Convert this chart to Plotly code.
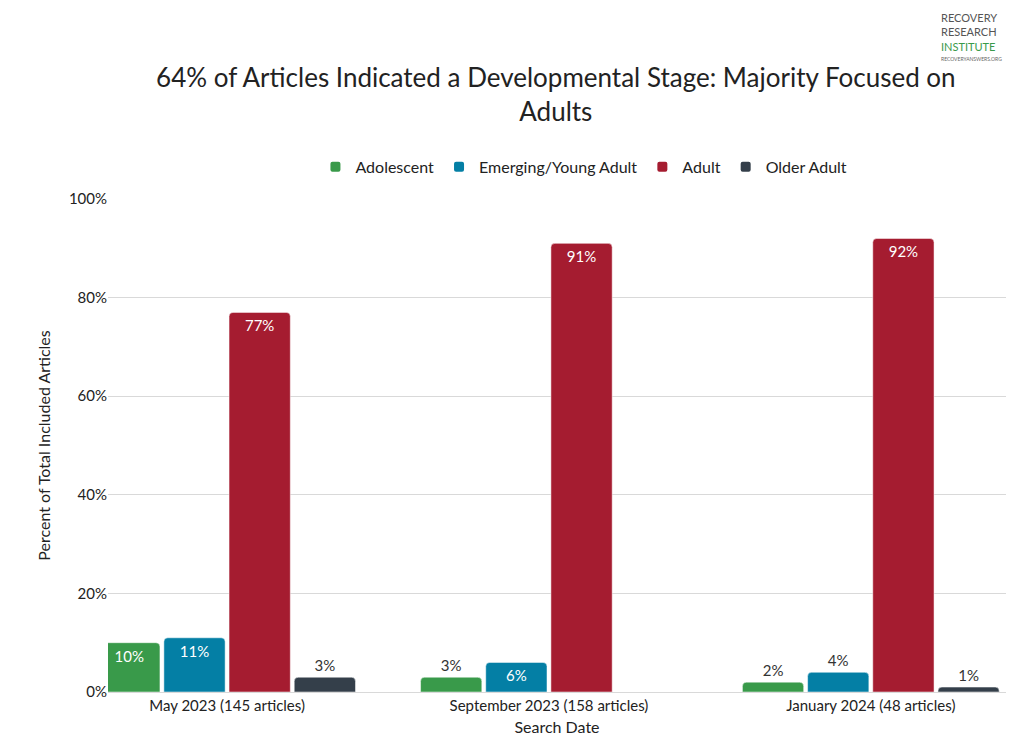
import plotly.graph_objects as go

categories = ["May 2023 (145 articles)", "September 2023 (158 articles)", "January 2024 (48 articles)"]
series_names = ["Adolescent", "Emerging/Young Adult", "Adult", "Older Adult"]
adolescent = [10, 3, 2]
young_adult = [11, 6, 4]
adult = [77, 91, 92]
older_adult = [3, None, 1]
colors = ["#399a4a", "#047fa5", "#a51c30", "#343f4a"]

FONT = "Lato, Open Sans, sans-serif"
fig = go.Figure()
for name, vals, col in zip(series_names, [adolescent, young_adult, adult, older_adult], colors):
    pos = ["inside" if (v is not None and v >= 5) else "outside" for v in vals]
    fig.add_trace(go.Bar(
        name=name, x=categories, y=vals, marker_color=col,
        text=[f"{v}%" if v is not None else "" for v in vals],
        textposition=pos, insidetextanchor="end",
        insidetextfont=dict(color="white", size=15),
        outsidetextfont=dict(color="#333", size=15),
        cliponaxis=False,
    ))

fig.update_layout(
    width=1024, height=750, template="plotly_white",
    font=dict(family=FONT, size=15, color="#222"),
    title=dict(text="64% of Articles Indicated a Developmental Stage: Majority Focused on<br>Adults",
               x=0.535, xanchor="center", y=0.895, yanchor="middle", font=dict(size=26)),
    legend=dict(orientation="h", x=0.53, xanchor="center", y=1.065, yanchor="middle",
                font=dict(size=16), itemsizing="constant"),
    margin=dict(l=100, r=26, t=191, b=66, autoexpand=False),
    bargap=0.19, bargroupgap=0.06, barcornerradius=4,
    plot_bgcolor="white", paper_bgcolor="white",
)
fig.update_yaxes(range=[0, 100], dtick=20, ticksuffix="%", gridcolor="#d9d9d9",
                 title=dict(text="Percent of Total Included Articles", font=dict(size=16), standoff=14),
                 zeroline=False, showline=False)
fig.update_xaxes(range=[-0.37, 2.42], title=dict(text="Search Date", font=dict(size=16), standoff=8),
                 showline=True, linecolor="#d9d9d9")

# logo approximation
fig.add_annotation(text="RECOVERY<br>RESEARCH<br><span style='color:#399a4a'>INSTITUTE</span>",
                   xref="paper", yref="paper", x=0.925, y=1.385, xanchor="left", yanchor="top",
                   showarrow=False, align="left", font=dict(size=11, color="#555"))
fig.add_annotation(text="RECOVERYANSWERS.ORG", xref="paper", yref="paper", x=0.925, y=1.295,
                   xanchor="left", yanchor="top", showarrow=False, font=dict(size=5, color="#666"))

fig.write_html("out.html")
